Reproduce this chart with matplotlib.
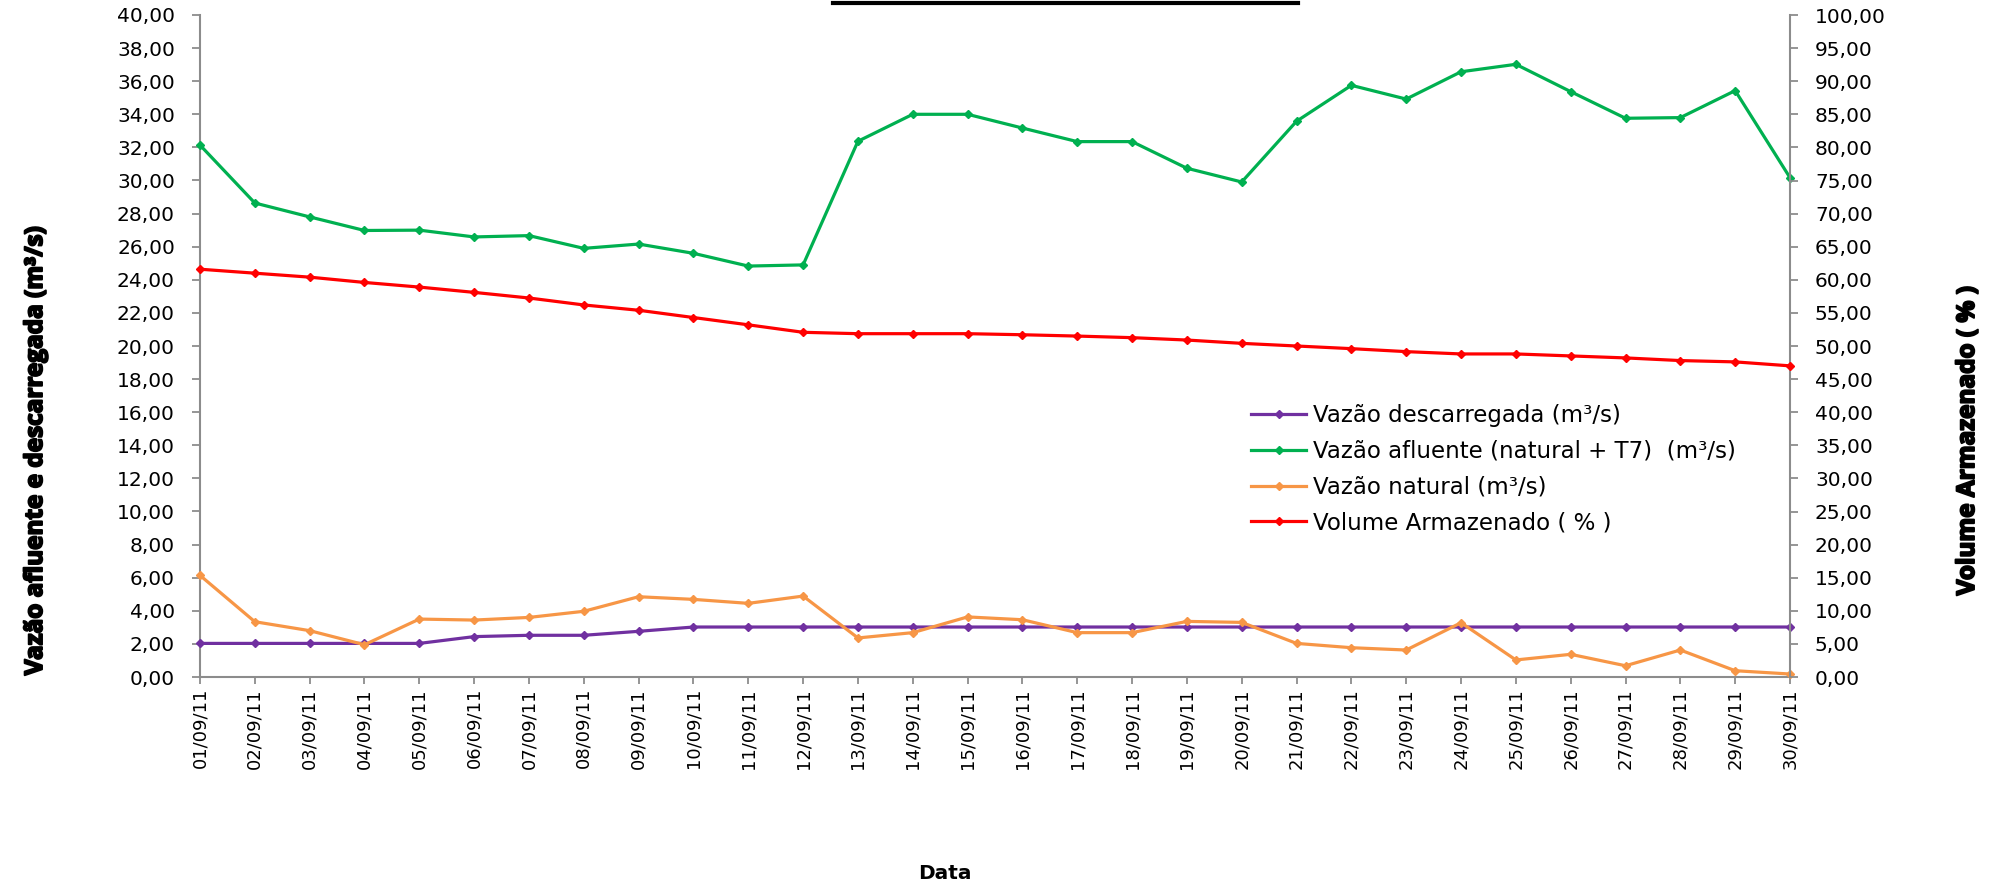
import matplotlib
matplotlib.use("Agg")
import matplotlib.pyplot as plt
import matplotlib.patheffects as pe
from matplotlib.ticker import FuncFormatter, MultipleLocator
from matplotlib.lines import Line2D

plt.rcParams['font.family'] = ['DejaVu Sans']

dates = [f"{d:02d}/09/11" for d in range(1, 31)]

vazao_descarregada = [2.03, 2.03, 2.03, 2.03, 2.03, 2.44, 2.52, 2.52, 2.76, 3.02,
                      3.02, 3.02, 3.02, 3.02, 3.02, 3.02, 3.02, 3.02, 3.02, 3.02,
                      3.02, 3.02, 3.02, 3.02, 3.02, 3.02, 3.02, 3.02, 3.02, 3.02]
vazao_afluente = [32.14, 28.64, 27.80, 26.98, 27.00, 26.59, 26.67, 25.90, 26.16, 25.60,
                  24.83, 24.90, 32.37, 34.00, 34.00, 33.17, 32.35, 32.35, 30.74, 29.91,
                  33.58, 35.75, 34.92, 36.57, 37.02, 35.37, 33.76, 33.80, 35.43, 30.17]
vazao_natural = [6.14, 3.34, 2.80, 1.95, 3.50, 3.44, 3.60, 3.97, 4.85, 4.69,
                 4.45, 4.89, 2.36, 2.68, 3.63, 3.46, 2.68, 2.68, 3.36, 3.30,
                 2.03, 1.77, 1.63, 3.28, 1.03, 1.37, 0.68, 1.63, 0.38, 0.18]
volume_armazenado = [61.6, 61.0, 60.4, 59.6, 58.9, 58.1, 57.25, 56.2, 55.4, 54.3,
                     53.2, 52.07, 51.86, 51.86, 51.86, 51.7, 51.5, 51.26, 50.9, 50.4,
                     50.0, 49.6, 49.15, 48.8, 48.8, 48.5, 48.2, 47.8, 47.6, 47.0]

labels = ["Vazão descarregada (m³/s)", "Vazão afluente (natural + T7)  (m³/s)",
          "Vazão natural (m³/s)", "Volume Armazenado ( % )"]
colors = ["#7030A0", "#00B050", "#F79646", "#FF0000"]

W, H = 2004, 888
fig = plt.figure(figsize=(W / 100, H / 100), dpi=100)
L, R, T, B = 200, 1790, 15, 677
ax = fig.add_axes([L / W, 1 - B / H, (R - L) / W, (B - T) / H])
ax2 = ax.twinx()

x = list(range(len(dates)))
lw = 2.3
ms = 4
for series, c, lab in zip([vazao_descarregada, vazao_afluente, vazao_natural], colors[:3], labels[:3]):
    ax.plot(x, series, color=c, lw=lw, marker='D', ms=ms, label=lab, clip_on=False, zorder=3)
ax2.plot(x, volume_armazenado, color=colors[3], lw=lw, marker='D', ms=ms, label=labels[3],
         clip_on=False, zorder=3)

fmt = FuncFormatter(lambda v, p: f"{v:.2f}".replace('.', ','))
ax.set_xlim(0, len(dates) - 1)
ax.set_ylim(0, 40)
ax.yaxis.set_major_locator(MultipleLocator(2))
ax.yaxis.set_major_formatter(fmt)
ax2.set_ylim(0, 100)
ax2.yaxis.set_major_locator(MultipleLocator(5))
ax2.yaxis.set_major_formatter(fmt)
ax.set_xticks(x)
ax.set_xticklabels(dates, rotation=90, fontsize=13)

spine_c = "#8C8C8C"
for a in (ax, ax2):
    a.spines['top'].set_visible(False)
    for s in ('left', 'right', 'bottom'):
        a.spines[s].set_color(spine_c)
        a.spines[s].set_linewidth(1.5)
    a.tick_params(colors=spine_c, labelcolor='black', width=1.3)
ax.spines['right'].set_visible(False)
ax2.spines['left'].set_visible(False)
ax2.spines['bottom'].set_visible(False)
ax.tick_params(axis='y', length=6, pad=12, labelsize=14.5)
ax2.tick_params(axis='y', length=6, pad=12, labelsize=14.5)
ax.tick_params(axis='x', length=5, pad=3, labelsize=13)

bold_fx = [pe.withStroke(linewidth=1.4, foreground='black')]
fig.text(36 / W, 1 - 451 / H, "Vazão afluente e descarregada (m³/s)", rotation=90,
         ha='center', va='center', fontsize=17.5, fontweight='bold', family='Open Sans',
         path_effects=bold_fx)
fig.text(1968 / W, 1 - 441 / H, "Volume Armazenado ( % )", rotation=90,
         ha='center', va='center', fontsize=17.5, fontweight='bold', family='Open Sans',
         path_effects=bold_fx)
fig.text(945 / W, 1 - 873 / H, "Data", ha='center', va='center', fontsize=14.5, fontweight='bold')

h1, l1 = ax.get_legend_handles_labels()
h2, l2 = ax2.get_legend_handles_labels()
leg = ax2.legend(h1 + h2, l1 + l2, loc='upper left', bbox_to_anchor=(1251 / W, 1 - 404 / H),
                 bbox_transform=fig.transFigure, frameon=False, fontsize=16.5,
                 handlelength=2.4, handletextpad=0.3, labelspacing=0.56, borderpad=0,
                 borderaxespad=0)

fig.add_artist(Line2D([833 / W, 1298 / W], [1 - 3 / H, 1 - 3 / H], transform=fig.transFigure,
                      color='black', lw=3))

fig.savefig("out.png", dpi=100)
